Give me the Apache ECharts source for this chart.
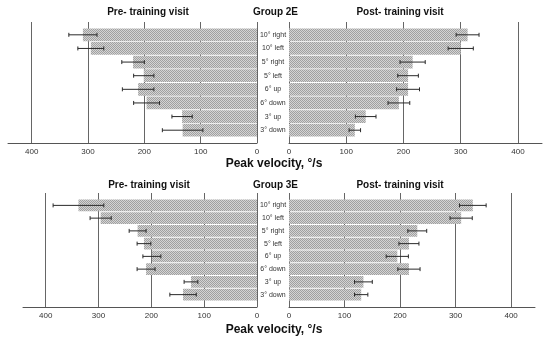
<!DOCTYPE html>
<html><head><meta charset="utf-8">
<script src="https://cdn.jsdelivr.net/npm/echarts@6/dist/echarts.min.js"></script>
<style>html,body{margin:0;padding:0;background:#fff}#c{width:550px;height:342px}</style>
</head><body><div id="c"></div>
<script>
// ---- data ----
const categories = ['10° right','10° left','5° right','5° left','6° up','6° down','3° up','3° down'];
const tickValues = [0,100,200,300,400];
const g2PreMean  = [309,295,220,201,211,196,133,132];
const g2PreErr   = [25,23,20,18,28,23,18,36];
const g2PostMean = [312,300,216,208,208,192,134,115];
const g2PostErr  = [20,22,22,18,20,19,18,10];
const g3PreMean  = [338,296,226,214,199,210,125,140];
const g3PreErr   = [48,20,16,13,17,17,13,25];
const g3PostMean = [331,310,231,216,195,216,134,130];
const g3PostErr  = [24,20,17,18,20,20,16,12];
const groupNames = ['Group 2E','Group 3E'];
const preTitle = 'Pre- training visit';
const postTitle = 'Post- training visit';
const axisName = 'Peak velocity, °/s';

// ---- pattern ----
function makePattern(){
  const c=document.createElement('canvas'); c.width=2; c.height=2;
  const ctx=c.getContext('2d');
  ctx.fillStyle='#d4d4d4'; ctx.fillRect(0,0,2,2);
  ctx.fillStyle='#a0a0a0'; ctx.fillRect(0,0,1,1); ctx.fillRect(1,1,1,1);
  return c;
}
const pattern = {image: makePattern(), repeat: 'repeat'};
const FONT = '"Liberation Sans", Arial, sans-serif';

const panels = [
  {left:8,   width:249, aTop:22,  aH:121, bTop:28,  bH:109, max:442, inv:true,  cats:false, mean:g2PreMean,  err:g2PreErr},
  {left:289, width:253, aTop:22,  aH:121, bTop:28,  bH:109, max:442, inv:false, cats:true,  mean:g2PostMean, err:g2PostErr},
  {left:23,  width:234, aTop:193, aH:114, bTop:199, bH:102, max:443, inv:true,  cats:false, mean:g3PreMean,  err:g3PreErr},
  {left:289, width:246, aTop:193, aH:114, bTop:199, bH:102, max:443, inv:false, cats:true,  mean:g3PostMean, err:g3PostErr}
];

const grid=[], xAxis=[], yAxis=[], series=[];
panels.forEach((p,k)=>{
  const ai = 2*k, bi = 2*k+1;
  grid.push({left:p.left, width:p.width, top:p.aTop, height:p.aH});
  grid.push({left:p.left, width:p.width, top:p.bTop, height:p.bH});
  xAxis.push({gridIndex:ai, type:'value', min:0, max:p.max, interval:100, inverse:p.inv,
    axisLine:{show:true, onZero:false, lineStyle:{color:'#555', width:1}},
    axisTick:{show:false},
    axisLabel:{fontSize:8, color:'#333', fontFamily:FONT, margin:5, showMaxLabel:false,
      formatter:v=> tickValues.includes(v)? String(v): ''},
    splitLine:{show:true, showMaxLine:false, lineStyle:{color:'#666', width:1}}
  });
  yAxis.push({gridIndex:ai, type:'value', min:0, max:1, show:false});
  xAxis.push({gridIndex:bi, type:'value', min:0, max:p.max, inverse:p.inv, show:false});
  yAxis.push({gridIndex:bi, type:'category', data:categories, inverse:true, position:'left',
    show:p.cats, axisLine:{show:false}, axisTick:{show:false}, splitLine:{show:false},
    axisLabel:{show:p.cats, align:'center', margin:16, fontSize:7, color:'#333', fontFamily:FONT}
  });
  series.push({type:'bar', xAxisIndex:bi, yAxisIndex:bi, data:p.mean, barCategoryGap:'7%',
    itemStyle:{color:pattern}, silent:true, animation:false});
  series.push({type:'custom', xAxisIndex:bi, yAxisIndex:bi, animation:false, silent:true, z:5,
    encode:{x:[0,2], y:1},
    data:p.mean.map((m,i)=>[m-p.err[i], i, m+p.err[i]]),
    renderItem:(params, api)=>{
      const a = api.coord([api.value(0), api.value(1)]);
      const b = api.coord([api.value(2), api.value(1)]);
      const h = 2, st = {stroke:'#2a2a2a', lineWidth:1};
      return {type:'group', children:[
        {type:'line', shape:{x1:a[0],y1:a[1],x2:b[0],y2:b[1]}, style:st},
        {type:'line', shape:{x1:a[0],y1:a[1]-h,x2:a[0],y2:a[1]+h}, style:st},
        {type:'line', shape:{x1:b[0],y1:b[1]-h,x2:b[0],y2:b[1]+h}, style:st}
      ]};
    }
  });
});

function txt(x,y,s,size,bold){
  return {type:'text', x:x, y:y, silent:true,
    style:{text:s, align:'center', verticalAlign:'middle', fill:'#111',
      font:(bold?'bold ':'')+size+'px '+FONT}};
}
const graphic = [
  txt(148,12.5,preTitle,10,true), txt(275.5,12.5,groupNames[0],10,true), txt(400,12.5,postTitle,10,true),
  txt(274,164,axisName,12,true),
  txt(149,185,preTitle,10,true), txt(275.5,185,groupNames[1],10,true), txt(400,185,postTitle,10,true),
  txt(274,330,axisName,12,true)
];

const chart = echarts.init(document.getElementById('c'), null, {renderer:'canvas'});
chart.setOption({animation:false, backgroundColor:'#fff', grid, xAxis, yAxis, series, graphic});
</script></body></html>
